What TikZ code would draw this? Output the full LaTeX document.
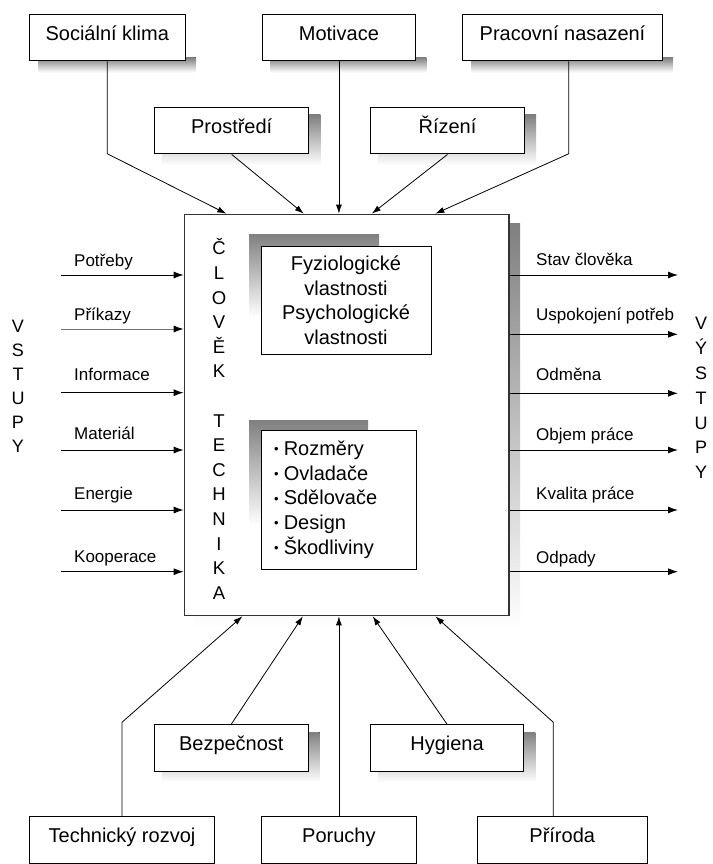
\documentclass[tikz,border=0pt]{standalone}
\usepackage{fontspec}
\setmainfont{Liberation Sans}
\usetikzlibrary{arrows.meta,calc,backgrounds}
\definecolor{shade}{HTML}{C0C0C0}
\definecolor{mainline}{HTML}{333333}
\newcommand\bul{{\fontsize{13}{13}\selectfont\raisebox{1.5pt}{•}}\hspace{5pt}}
\begin{document}
\begin{tikzpicture}[x=1pt,y=-1pt,
  boxlabel/.style={draw=black, line width=1pt, fill=white, inner sep=0pt,
    minimum height=46.5pt, text height=14pt, text depth=8.7pt,
    font=\fontsize{20}{24}\selectfont},
  sidelabel/.style={anchor=base west, inner sep=0pt, font=\fontsize{17}{20}\selectfont},
  vletters/.style={align=center, inner sep=0pt},
  carr/.style={line width=0.8pt, -{Latex[length=9pt,width=6pt]}},
  sarr/.style={line width=1pt, -{Latex[length=10pt,width=7pt,color=black]}}
]
\useasboundingbox (0,0) rectangle (712,864);

% outer boxes
\node[boxlabel, minimum width=155.5pt] (soc) at (107.25,37.7) {Sociální klima};
\node[boxlabel, minimum width=153.7pt] (mot) at (338.9,37.7) {Motivace};
\node[boxlabel, minimum width=200pt] (prac) at (562.5,37.7) {Pracovní nasazení};
\node[boxlabel, minimum width=154.5pt] (prost) at (231.7,130.7) {Prostředí};
\node[boxlabel, minimum width=154.4pt] (riz) at (447.5,130.7) {Řízení};
\node[boxlabel, minimum width=153.5pt] (bez) at (231.3,747.9) {Bezpečnost};
\node[boxlabel, minimum width=153.5pt] (hyg) at (447,747.9) {Hygiena};
\node[boxlabel, minimum width=185pt] (tech) at (122,840) {Technický rozvoj};
\node[boxlabel, minimum width=155.4pt] (por) at (338.9,840) {Poruchy};
\node[boxlabel, minimum width=170.4pt] (pri) at (562.2,840) {Příroda};

% main box
\node[draw=mainline, line width=1.3pt, fill=white, inner sep=0pt,
      minimum width=324.7pt, minimum height=401.4pt] (main) at (346.65,415) {};

% shadows
\begin{scope}[on background layer]
  \fill[shade] ($(main.north west)+(9.5,10)$) rectangle ($(main.south east)+(10.5,11.5)$);
  \foreach \n in {soc,mot,prac}
    \fill[shade] ($(\n.south west)+(9,-4)$) rectangle ($(\n.south east)+(10,11)$);
  \foreach \n in {prost,riz,bez,hyg}
    \fill[shade] ($(\n.north west)+(8,8)$) rectangle ($(\n.south east)+(11,10.5)$);
\end{scope}

% inner boxes
\fill[shade] (249,234) rectangle (379,317);
\node[draw=black, line width=1pt, fill=white, inner sep=0pt, align=center,
      minimum width=170pt, minimum height=108pt,
      font=\fontsize{20}{24.5}\selectfont] (phys) at (346,300)
      {Fyziologické\\vlastnosti\\Psychologické\\vlastnosti};
\fill[shade] (249,420) rectangle (368,525);
\node[draw=black, line width=1pt, fill=white, inner sep=0pt,
      minimum width=155.7pt, minimum height=139pt] (tbox) at (338.85,499.5) {};
\node[anchor=west, align=left, inner sep=0pt,
      font=\fontsize{20}{24.7}\selectfont] (list) at (274,499.5)
      {\bul Rozměry\\\bul Ovladače\\\bul Sdělovače\\\bul Design\\\bul Škodliviny};

% vertical words
\node[vletters, font=\fontsize{18.5}{24.6}\selectfont] (clovek) at (219,419)
  {Č\\L\\O\\V\\Ě\\K\\[24.6pt]T\\E\\C\\H\\N\\I\\K\\A};
\node[vletters, font=\fontsize{18}{23.9}\selectfont] (vstupy) at (18,386.5)
  {V\\S\\T\\U\\P\\Y};
\node[vletters, font=\fontsize{18}{24.9}\selectfont] (vystupy) at (701,398)
  {V\\Ý\\S\\T\\U\\P\\Y};

% top connectors
\draw[carr] (soc.south) -- ++(0,92.3) -- ($(main.north west)+(42.7,0)$);
\draw[carr] (prost.south) -- ($(main.north west)+(120.1,0)$);
\draw[carr] (mot.south) -- (mot.south |- main.north);
\draw[carr] (riz.south) -- ($(main.north west)+(188.2,0)$);
\draw[carr] ($(prac.south)+(6.3,0)$) -- ++(0,92.3) -- ($(main.north west)+(251.7,0)$);

% bottom connectors
\draw[carr] (tech.north) -- ++(0,-94) -- ($(main.south west)+(58.7,0)$);
\draw[carr] (bez.north) -- ($(main.south west)+(119.2,0)$);
\draw[carr] (por.north) -- (por.north |- main.south);
\draw[carr] (hyg.north) -- ($(main.south west)+(189.1,0)$);
\draw[carr] ($(pri.north)+(-8.9,0)$) -- ++(0,-94) -- ($(main.south west)+(251.7,0)$);

% inputs
\foreach \y/\b/\t/\n/\c in {275/266/Potřeby/in1/black,
    329/320/Příkazy/in2/black!55,
    392.7/380/Informace/in3/black,
    450/439.3/Materiál/in4/black,
    510/499.3/Energie/in5/black,
    571.7/562.7/Kooperace/in6/black}{
  \coordinate (\n) at (61,\y);
  \draw[sarr, draw=\c] (\n) -- (\n -| main.west);
  \node[sidelabel] (\n lab) at (74,\b) {\t};
}

% outputs
\foreach \y/\b/\t/\n in {275/265.7/Stav člověka/out1,
    334.3/320.7/Uspokojení potřeb/out2,
    393.3/380.7/Odměna/out3,
    450/440/Objem práce/out4,
    510/499.3/Kvalita práce/out5,
    571.7/563.3/Odpady/out6}{
  \coordinate (\n) at (678,\y);
  \draw[sarr] (\n -| main.east) -- (\n);
  \node[sidelabel] (\n lab) at (536,\b) {\t};
}
\end{tikzpicture}
\end{document}
